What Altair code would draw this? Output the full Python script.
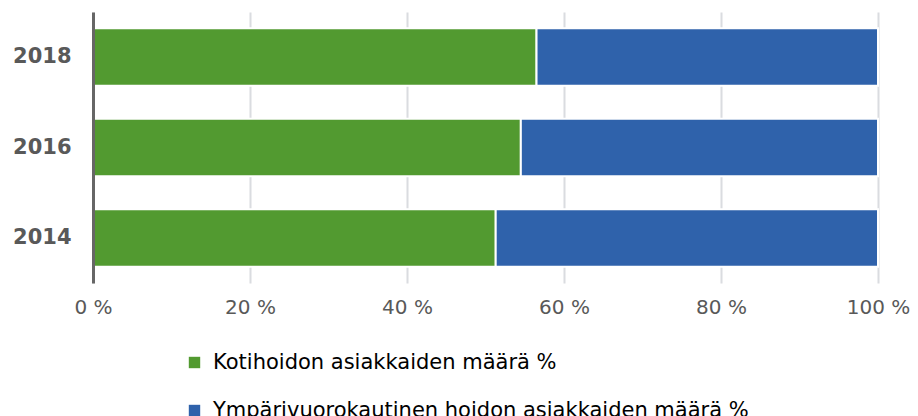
import altair as alt
import pandas as pd

years = ["2018", "2016", "2014"]
series = ["Kotihoidon asiakkaiden määrä %", "Ympärivuorokautinen hoidon asiakkaiden määrä %"]
kotihoito = [56.5, 54.5, 51.3]
ymparivuorokautinen = [43.5, 45.5, 48.7]
colors = ["#529A30", "#2F62AB"]
x_ticks = [0, 20, 40, 60, 80, 100]

rows = []
for i, y in enumerate(years):
    rows.append({"year": y, "series": series[0], "value": kotihoito[i], "ord": 0})
    rows.append({"year": y, "series": series[1], "value": ymparivuorokautinen[i], "ord": 1})
df = pd.DataFrame(rows)

chart = alt.Chart(df).mark_bar(stroke="white", strokeWidth=2).encode(
    y=alt.Y("year:N", sort=years,
            scale=alt.Scale(paddingInner=0.365, paddingOuter=0.18),
            axis=alt.Axis(title=None, ticks=False, domain=True, domainColor="#666666",
                          domainWidth=3, labelFont="DejaVu Sans", labelFontWeight="bold",
                          labelFontSize=21, labelColor="#595959", labelPadding=22,
                          grid=False, zindex=1)),
    x=alt.X("value:Q", stack="zero",
            scale=alt.Scale(domain=[0, 100], nice=False),
            axis=alt.Axis(title=None, values=x_ticks, labelExpr="datum.value + ' %'",
                          ticks=False, domain=False, grid=True, gridColor="#DADCE0",
                          gridWidth=2, labelFont="DejaVu Sans", labelFontSize=20,
                          labelColor="#595959", labelPadding=14, labelFlush=False)),
    color=alt.Color("series:N",
                    scale=alt.Scale(domain=series, range=colors),
                    legend=alt.Legend(title=None, orient="none", legendX=91, legendY=340,
                                      direction="vertical", symbolType="square",
                                      symbolSize=130, symbolStrokeWidth=0,
                                      labelFont="DejaVu Sans", labelFontSize=21,
                                      labelColor="#000000", labelOffset=8, labelLimit=0,
                                      rowPadding=26, padding=0)),
    order=alt.Order("ord:Q"),
).properties(
    width=785, height=271,
    autosize=alt.AutoSizeParams(type="none"),
    padding={"left": 85, "top": 4, "right": 32, "bottom": 133},
).configure_view(stroke=None)

chart.save("out.html", embed_options={"renderer": "svg", "actions": False})
